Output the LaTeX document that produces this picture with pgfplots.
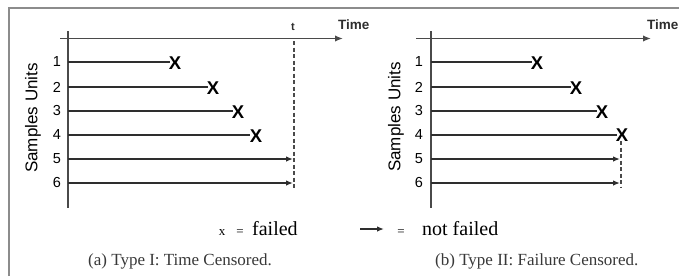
\documentclass[border=0pt]{standalone}
\usepackage{pgfplots}
\pgfplotsset{compat=1.18}
\usepackage{fontspec}
\setmainfont{Liberation Serif}
\newfontfamily\arial{Liberation Sans}
\usetikzlibrary{arrows.meta}
\definecolor{ln}{HTML}{2E2E2E}
\definecolor{ax}{HTML}{4A4A4A}
\definecolor{fr}{HTML}{8C8C8C}
\definecolor{cap}{HTML}{383838}
\begin{document}
\begin{tikzpicture}
\begin{axis}[scale only axis, width=679pt, height=276pt,
  xmin=0, xmax=679, ymin=0, ymax=276, y dir=reverse,
  axis lines=none, clip=false,
  row/.style={ln, line width=1.35pt, forget plot},
  rowarr/.style={ln, line width=1.35pt, -{Latex[length=7pt,width=5.5pt]}, forget plot},
  xm/.style={black, only marks, mark=text, text mark={\arial\bfseries\fontsize{18.5}{18.5}\selectfont X}}]
% frame
\addplot[fr, line width=1.6pt] coordinates {(9,276) (9,8) (679,8)};
% ---------- panel (a) ----------
\addplot[ax, line width=1.8pt] coordinates {(68,31) (68,208)};
\addplot[ax, line width=1.8pt, -{Latex[length=8pt,width=6.5pt]}] coordinates {(60,38.5) (343,38.5)};
\addplot[row] coordinates {(68,62) (170,62)};
\addplot[row] coordinates {(68,87) (208,87)};
\addplot[row] coordinates {(68,111) (233,111)};
\addplot[row] coordinates {(68,135) (250,135)};
\addplot[rowarr] coordinates {(68,159) (293,159)};
\addplot[rowarr] coordinates {(68,183) (293,183)};
\addplot[ax, line width=1.3pt, dash pattern=on 4pt off 2.5pt] coordinates {(294,41) (294,190)};
\addplot[xm] coordinates {(175,63) (213,88) (238,112) (256,136)};
% ---------- panel (b) ----------
\addplot[ax, line width=1.8pt] coordinates {(431,31) (431,208)};
\addplot[ax, line width=1.8pt, -{Latex[length=8pt,width=6.5pt]}] coordinates {(416,38.5) (651,38.5)};
\addplot[row] coordinates {(431,62) (532,62)};
\addplot[row] coordinates {(431,87) (571,87)};
\addplot[row] coordinates {(431,111) (597,111)};
\addplot[row] coordinates {(431,135) (617,135)};
\addplot[rowarr] coordinates {(431,159) (620,159)};
\addplot[rowarr] coordinates {(431,183) (620,183)};
\addplot[ax, line width=1.3pt, dash pattern=on 4pt off 2.5pt] coordinates {(621,141) (621,188)};
\addplot[xm] coordinates {(537,63) (576,88) (602,112) (622,135)};
% legend arrow
\addplot[ln, line width=1.35pt, -{Latex[length=7pt,width=5.5pt]}] coordinates {(360,229) (384,229)};
% ---------- texts ----------
\foreach \i/\yy in {1/62,2/87,3/111,4/135,5/159,6/183}{
  \edef\tmp{\noexpand\node[font=\noexpand\arial\noexpand\fontsize{14.5}{14.5}\noexpand\selectfont, text=black] at (axis cs:57,\yy) {\i};
  \noexpand\node[font=\noexpand\arial\noexpand\fontsize{14.5}{14.5}\noexpand\selectfont, text=black] at (axis cs:419,\yy) {\i};}
  \tmp
}
\node[rotate=90, font=\arial\fontsize{17}{17}\selectfont, text=black] at (axis cs:33,118) {Samples Units};
\node[rotate=90, font=\arial\fontsize{17}{17}\selectfont, text=black] at (axis cs:396,117) {Samples Units};
\node[anchor=west, inner sep=0pt, font=\arial\bfseries\fontsize{13.5}{13.5}\selectfont, text=ln] at (axis cs:338,25) {Time};
\node[anchor=west, inner sep=0pt, font=\arial\bfseries\fontsize{13.5}{13.5}\selectfont, text=ln] at (axis cs:647,25) {Time};
\node[inner sep=0pt, font=\arial\bfseries\fontsize{11}{11}\selectfont, text=ln] at (axis cs:293,27) {t};
\node[anchor=base, inner sep=0pt, font=\fontsize{13}{13}\selectfont] at (axis cs:222,235) {x};
\node[anchor=base, inner sep=0pt, font=\fontsize{13}{13}\selectfont] at (axis cs:240,235) {=};
\node[anchor=base west, inner sep=0pt, font=\fontsize{20}{20}\selectfont] at (axis cs:252,235) {failed};
\node[anchor=base, inner sep=0pt, font=\fontsize{13}{13}\selectfont] at (axis cs:401,235) {=};
\node[anchor=base west, inner sep=0pt, font=\fontsize{20}{20}\selectfont] at (axis cs:422,235) {not failed};
\node[anchor=base west, inner sep=0pt, font=\fontsize{17}{17}\selectfont, text=cap] at (axis cs:88,265) {(a) Type I: Time Censored.};
\node[anchor=base west, inner sep=0pt, font=\fontsize{17}{17}\selectfont, text=cap] at (axis cs:435,265) {(b) Type II: Failure Censored.};
\end{axis}
\pgfresetboundingbox
\path (0,0) rectangle (679pt,276pt);
\end{tikzpicture}
\end{document}
